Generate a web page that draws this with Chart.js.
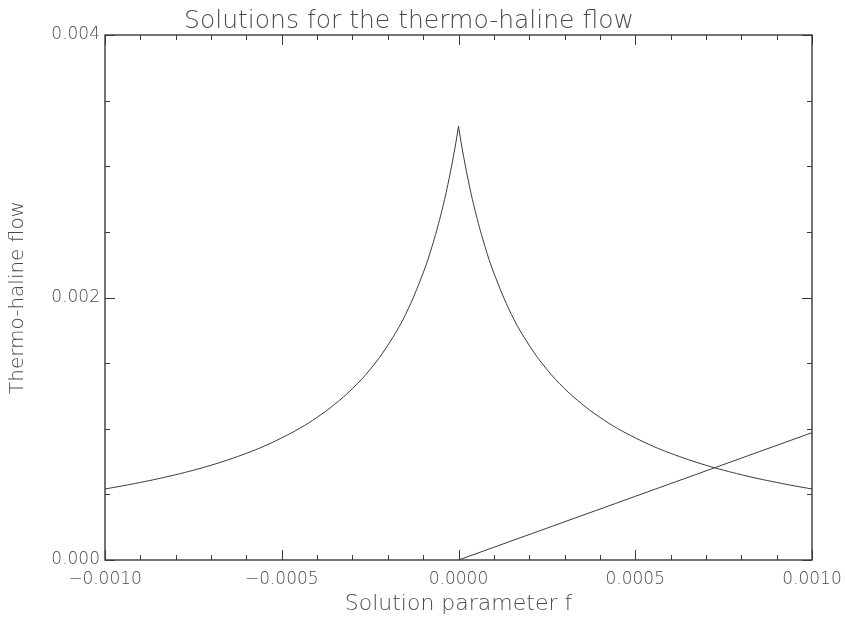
<!DOCTYPE html>
<html>
<head>
<meta charset="utf-8">
<script src="https://cdn.jsdelivr.net/npm/chart.js@4/dist/chart.umd.min.js"></script>
<style>
  html, body { margin: 0; padding: 0; background: #ffffff; }
  canvas { display: block; }
</style>
</head>
<body>
<canvas id="c" width="845" height="617"></canvas>
<script>
// ---- data ----
// left branch of the cusp curve (f <= 0)
const fLeft = [-0.001, -0.00095, -0.0009, -0.00085, -0.0008, -0.00075, -0.0007, -0.00065, -0.0006, -0.00055, -0.0005, -0.00045, -0.0004, -0.00035, -0.0003, -0.00025, -0.0002, -0.00015, -0.0001, -0.000075, -0.00005, -0.00003, -0.00001, 0];
const flowLeft = [0.000541, 0.000565, 0.000591, 0.000619, 0.000650, 0.000684, 0.000722, 0.000765, 0.000813, 0.000867, 0.000931, 0.001002, 0.001087, 0.001187, 0.001306, 0.001452, 0.001636, 0.001870, 0.002187, 0.002388, 0.002630, 0.002862, 0.003140, 0.003305];
// right branch of the cusp curve (f >= 0)
const fRight = [0, 0.00001, 0.00003, 0.00005, 0.000075, 0.0001, 0.00015, 0.0002, 0.00025, 0.0003, 0.00035, 0.0004, 0.00045, 0.0005, 0.00055, 0.0006, 0.00065, 0.0007, 0.00075, 0.0008, 0.00085, 0.0009, 0.00095, 0.001];
const flowRight = [0.003305, 0.003140, 0.002862, 0.002630, 0.002388, 0.002187, 0.001870, 0.001636, 0.001452, 0.001306, 0.001187, 0.001087, 0.001002, 0.000931, 0.000867, 0.000813, 0.000765, 0.000722, 0.000684, 0.000650, 0.000619, 0.000591, 0.000565, 0.000541];
// straight solution
const lineF = [0.0, 0.001];
const flowLine = [0.0, 0.00097];

const xRange = [-0.001, 0.001];
const yRange = [0.0, 0.004];
const xMinorStep = 0.0001, xMajorStep = 0.0005;
const yMinorStep = 0.0005, yMajorStep = 0.002;

const titleText = 'Solutions for the thermo-haline flow';
const xTitle = 'Solution parameter f';
const yTitle = 'Thermo-haline flow';

// ---- helpers ----
function isMultiple(v, step) {
  const r = v / step;
  return Math.abs(r - Math.round(r)) < 1e-6;
}
function fmt(v, digits) {
  const s = Math.abs(v).toFixed(digits);
  return (v < -1e-12 ? '\u2212' : '') + s;
}

const textColor = '#4a4a4a';
const inkColor = '#3a3a3a';
const fontFamily = '"DejaVu Sans", "Liberation Sans", sans-serif';

const framePlugin = {
  id: 'frameTicks',
  afterDraw(chart) {
    const ctx = chart.ctx;
    const a = chart.chartArea;
    const xs = chart.scales.x, ys = chart.scales.y;
    ctx.save();
    ctx.strokeStyle = inkColor;
    ctx.lineWidth = 1.4;
    ctx.strokeRect(a.left, a.top, a.right - a.left, a.bottom - a.top);
    ctx.lineWidth = 1;
    ctx.beginPath();
    xs.ticks.forEach(t => {
      const px = Math.round(xs.getPixelForValue(t.value)) + 0.5;
      const len = isMultiple(t.value, xMajorStep) ? 10 : 5;
      ctx.moveTo(px, a.bottom); ctx.lineTo(px, a.bottom - len);
      ctx.moveTo(px, a.top); ctx.lineTo(px, a.top + len);
    });
    ys.ticks.forEach(t => {
      const py = Math.round(ys.getPixelForValue(t.value)) + 0.5;
      const len = isMultiple(t.value, yMajorStep) ? 10 : 5;
      ctx.moveTo(a.left, py); ctx.lineTo(a.left + len, py);
      ctx.moveTo(a.right, py); ctx.lineTo(a.right - len, py);
    });
    ctx.stroke();
    ctx.restore();
  }
};

const lineStyle = {
  showLine: true, borderColor: inkColor, borderWidth: 1, pointRadius: 0,
  tension: 0.4
};

new Chart(document.getElementById('c'), {
  type: 'scatter',
  data: {
    datasets: [
      Object.assign({ data: fLeft.map((f, i) => ({ x: f, y: flowLeft[i] })) }, lineStyle),
      Object.assign({ data: fRight.map((f, i) => ({ x: f, y: flowRight[i] })) }, lineStyle),
      Object.assign({ data: lineF.map((f, i) => ({ x: f, y: flowLine[i] })) }, lineStyle)
    ]
  },
  options: {
    responsive: false,
    animation: false,
    devicePixelRatio: 1,
    layout: { padding: { left: 6, right: 33, top: 0, bottom: 0 } },
    plugins: {
      legend: { display: false },
      tooltip: { enabled: false },
      title: {
        display: true,
        text: titleText,
        color: textColor,
        font: { family: fontFamily, size: 25, weight: '200', lineHeight: 1.12 },
        padding: { top: 7, bottom: 0 }
      }
    },
    scales: {
      x: {
        type: 'linear',
        min: xRange[0], max: xRange[1],
        grid: { display: false, drawTicks: false },
        border: { display: false },
        ticks: {
          stepSize: xMinorStep,
          autoSkip: false,
          maxRotation: 0,
          padding: 9,
          color: textColor,
          font: { family: fontFamily, size: 17, weight: '200' },
          callback: v => isMultiple(v, xMajorStep) ? fmt(v, 4) : ''
        },
        title: {
          display: true, text: xTitle, color: textColor,
          font: { family: fontFamily, size: 22, weight: '200', lineHeight: 1.2 },
          padding: { top: 0, bottom: 0 }
        },
        afterFit(scale) { scale.height = 57; scale.paddingLeft = 0; scale.paddingRight = 0; }
      },
      y: {
        type: 'linear',
        min: yRange[0], max: yRange[1],
        grid: { display: false, drawTicks: false },
        border: { display: false },
        ticks: {
          stepSize: yMinorStep,
          autoSkip: false,
          padding: 5,
          color: textColor,
          font: { family: fontFamily, size: 17, weight: '200' },
          callback: v => isMultiple(v, yMajorStep) ? fmt(v, 3) : ''
        },
        title: {
          display: true, text: yTitle, color: textColor,
          font: { family: fontFamily, size: 20, weight: '200', lineHeight: 1.2 },
          padding: { top: 0, bottom: 0 }
        },
        afterFit(scale) { scale.width = 99; scale.paddingTop = 0; scale.paddingBottom = 0; }
      }
    }
  },
  plugins: [framePlugin]
});
</script>
</body>
</html>
